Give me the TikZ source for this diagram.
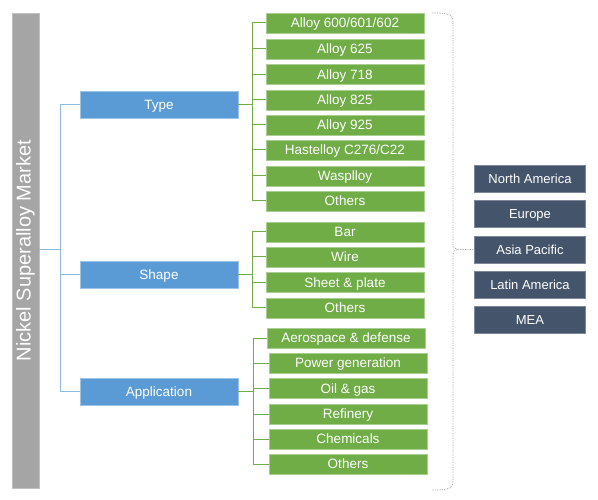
\documentclass[tikz,border=0pt]{standalone}
\usepackage{fontspec}
\setmainfont{Liberation Sans}
\begin{document}
\begin{tikzpicture}[x=1pt,y=-1pt,
  bar/.style={fill=barg,draw=barg!70!white,line width=0.8pt},
  cat/.style={fill=catb,draw=catb!60!white,line width=0.6pt,text=white,font=\fontsize{13.5}{15}\selectfont,text height=10.5pt,text depth=1pt},
  item/.style={fill=itg,draw=itg!60!white,line width=0.6pt,text=white,font=\fontsize{13.5}{15}\selectfont,text height=10.5pt,text depth=1pt},
  reg/.style={fill=regc,draw=regc!70!white,line width=0.6pt,text=white,font=\fontsize{13}{15}\selectfont,text height=10.3pt,text depth=1pt},
  bline/.style={draw=catb!70!white,line width=1pt},
  gline/.style={draw=itg,line width=1pt},
  brace/.style={draw=gray!80,densely dotted,line width=0.7pt}]
\definecolor{barg}{HTML}{A5A5A5}
\definecolor{catb}{HTML}{5B9BD5}
\definecolor{itg}{HTML}{70AD47}
\definecolor{regc}{HTML}{44546A}
\useasboundingbox (0,0) rectangle (598,500);
% main bar
\node[bar,minimum width=27pt,minimum height=475pt,inner sep=0pt] (m) at (25.5,250.5) {};
\node[rotate=90,text=white,font=\fontsize{20}{22}\selectfont] (mt) at (m.center) {Nickel Superalloy Market};
% categories
\node[cat,minimum width=158pt,minimum height=27pt,inner sep=0pt] (type) at (159,104.5) {Type};
\node[cat,minimum width=158pt,minimum height=27pt,inner sep=0pt] (shape) at (159,274.5) {Shape};
\node[cat,minimum width=158pt,minimum height=27pt,inner sep=0pt] (app) at (159,391.5) {Application};
\coordinate (tr) at (60,250);
\draw[bline] (m.east |- tr) -- (tr);
\draw[bline] (60,104.5) -- (60,391.5);
\draw[bline] (60,104.5) -- (type.west);
\draw[bline] (60,274.5) -- (shape.west);
\draw[bline] (60,391.5) -- (app.west);
% items
\foreach \n/\y/\t in {t1/23/Alloy 600\slash 601\slash 602,t2/49/Alloy 625,t3/74.5/Alloy 718,t4/100/Alloy 825,t5/125/Alloy 925,t6/150/Hastelloy C276\slash C22,t7/176/Wasplloy,t8/201/Others}{
  \node[item,minimum width=158pt,minimum height=20pt,inner sep=0pt] (\n) at (345,\y) {\t};
  \draw[gline] (252,\y) -- (\n.west);
}
\draw[gline] (252,23) -- (252,201);
\draw[gline] (type.east) -- (252,104.5);
\foreach \n/\y/\t in {s1/232/Bar,s2/257/Wire,s3/282.5/Sheet \& plate,s4/308/Others}{
  \node[item,minimum width=158pt,minimum height=20pt,inner sep=0pt] (\n) at (345,\y) {\t};
  \draw[gline] (252,\y) -- (\n.west);
}
\draw[gline] (252,232) -- (252,308);
\draw[gline] (shape.east) -- (252,274.5);
\node[item,minimum width=158pt,minimum height=20pt,inner sep=0pt] (a1) at (346,338) {Aerospace \& defense};
\draw[gline] (253,338) -- (a1.west);
\foreach \n/\y/\t in {a2/363/Power generation,a3/388.5/Oil \& gas,a4/414/Refinery,a5/439/Chemicals,a6/464/Others}{
  \node[item,minimum width=158pt,minimum height=20pt,inner sep=0pt] (\n) at (348,\y) {\t};
  \draw[gline] (253,\y) -- (\n.west);
}
\draw[gline] (253,338) -- (253,464);
\draw[gline] (app.east) -- (253,391.5);
% regions
\foreach \n/\y/\t in {r1/179/North America,r2/214/Europe,r3/249.5/Asia Pacific,r4/284.5/Latin America,r5/319.5/MEA}{
  \node[reg,minimum width=111pt,minimum height=27pt,inner sep=0pt] (\n) at (530,\y) {\t};
}
% brace
\draw[brace] (432,13) .. controls (448,13) and (453,14) .. (453,22) -- (453,244) .. controls (453,248) and (455,249.5) .. (458,249.5) -- (r3.west);
\draw[brace] (432,490) .. controls (448,490) and (453,489) .. (453,481) -- (453,255) .. controls (453,251) and (455,249.5) .. (458,249.5);
\end{tikzpicture}
\end{document}
